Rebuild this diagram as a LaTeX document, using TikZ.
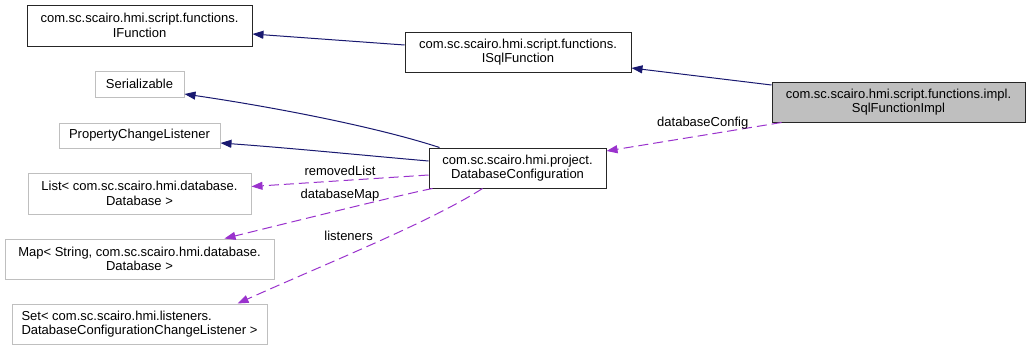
\documentclass[tikz,border=0pt]{standalone}
\usepackage{fontspec}
\setmainfont{Liberation Sans}
\usetikzlibrary{arrows.meta,calc}
\definecolor{edgeblue}{HTML}{191970}
\definecolor{edgepurple}{HTML}{9A32CD}
\definecolor{boxgray}{HTML}{BFBFBF}
\definecolor{bordergray}{HTML}{BFBFBF}
\begin{document}
\begin{tikzpicture}[x=1pt,y=-1pt,
  every node/.style={font=\fontsize{13}{14.5}\selectfont, inner sep=0pt},
  cls/.style={draw=black!85, line width=1pt, align=center},
  ext/.style={draw=bordergray, line width=1pt, align=center},
  inherit/.style={draw=edgeblue, line width=1pt, -{Triangle[length=11pt,width=8pt]}},
  usage/.style={draw=edgepurple, line width=1pt, dash pattern=on 10pt off 5pt, -{Triangle[length=11pt,width=8pt]}},
  elabel/.style={font=\fontsize{13}{14.5}\selectfont}]
\useasboundingbox (0,0) rectangle (1031,351);

% classes
\node[cls, fill=boxgray, minimum width=253pt, minimum height=40pt] (impl) at (898.5,102)
  {com.sc.scairo.hmi.script.functions.impl.\\SqlFunctionImpl};
\node[cls, minimum width=226pt, minimum height=40pt] (isql) at (518,52)
  {com.sc.scairo.hmi.script.functions.\\ISqlFunction};
\node[cls, minimum width=225pt, minimum height=41pt] (ifunc) at (139.5,25.5)
  {com.sc.scairo.hmi.script.functions.\\IFunction};
\node[cls, minimum width=177pt, minimum height=40pt] (dc) at (517.5,168)
  {com.sc.scairo.hmi.project.\\DatabaseConfiguration};

% external types
\node[ext, minimum width=89pt, minimum height=26pt] (ser) at (139.5,84) {Serializable};
\node[ext, minimum width=161pt, minimum height=25pt] (pcl) at (139.5,135.5) {PropertyChangeListener};
\node[ext, minimum width=223pt, minimum height=41pt] (list) at (139.5,193.5)
  {List< com.sc.scairo.hmi.database.\\Database >};
\node[ext, minimum width=269pt, minimum height=40pt] (map) at (139.5,259)
  {Map< String, com.sc.scairo.hmi.database.\\Database >};
\node[ext, minimum width=255pt, minimum height=40pt, align=left] (set) at (139.5,324)
  {Set< com.sc.scairo.hmi.listeners.\\DatabaseConfigurationChangeListener >};

% inheritance
\draw[inherit] ($(isql.west)+(0,-7)$) -- ($(ifunc.east)+(0,8.5)$);
\draw[inherit] ($(impl.west)+(0,-17)$) -- ($(isql.east)+(0,16)$);
\draw[inherit] ($(dc.north west)+(11,0)$) .. controls (380,128) and (280,108) .. ($(ser.east)+(0,10)$);
\draw[inherit] ($(dc.west)+(0,-7)$) .. controls (360,155) and (290,148) .. ($(pcl.east)+(0,7.5)$);

% usage
\draw[usage] ($(impl.south west)+(10,0)$) -- node[elabel, pos=0.45, above=6pt] {databaseConfig} ($(dc.east)+(0,-17)$);
\draw[usage] ($(dc.west)+(0,7)$) -- node[elabel, pos=0.5, above=5pt] {removedList} ($(list.east)+(0,-7)$);
\draw[usage] ($(dc.south west)+(4,0)$) .. controls (400,195) and (300,220) .. node[elabel, pos=0.52, above=8pt] {databaseMap} ($(map.north)+(85,0)$);
\draw[usage] ($(dc.south west)+(54,0)$) .. controls (430,222) and (330,262) .. node[elabel, pos=0.6, above=14pt] {listeners} ($(set.north)+(98,0)$);
\end{tikzpicture}
\end{document}
